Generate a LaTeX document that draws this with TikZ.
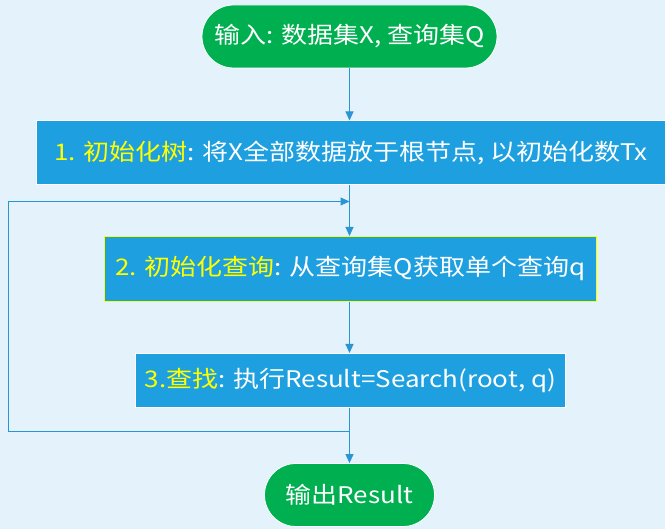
\documentclass[tikz,border=0pt]{standalone}
\usepackage{fontspec}
\setmainfont{Noto Sans CJK SC}
\usetikzlibrary{arrows.meta,shapes.misc}
\definecolor{bgc}{HTML}{E3F2FB}
\definecolor{boxc}{HTML}{1EA0E0}
\definecolor{greenc}{HTML}{00B050}
\definecolor{linec}{HTML}{2A95D5}
\definecolor{yel}{HTML}{FFFF00}
\newcommand{\sq}[1]{\scalebox{1}[0.88]{#1}}
\tikzset{
  proc/.style={fill=boxc, draw=white, line width=0.8pt, text=white, inner sep=0pt, anchor=north west},
  term/.style={rounded rectangle, fill=greenc, draw=white, line width=0.8pt, text=white, inner sep=0pt},
  conn/.style={draw=linec, line width=1pt, -{Triangle[length=9pt,width=8pt]}},
  plain/.style={draw=linec, line width=1pt},
  lbl/.style={font=\fontsize{26}{30}\selectfont}
}
\begin{document}
\begin{tikzpicture}[x=1pt,y=-1pt]
\useasboundingbox (0,0) rectangle (665,529);
\fill[bgc] (0,0) rectangle (665,529);
% nodes
\node[term, minimum width=295pt, minimum height=63pt, lbl] (start) at (349.5,36.5) {\sq{输入: 数据集X, 查询集Q}};
\node[proc, minimum width=629pt, minimum height=64pt, lbl] (b1) at (36,120.5) {\sq{\textcolor{yel}{1. 初始化树}: 将X全部数据放于根节点, 以初始化数Tx}};
\node[proc, draw=yel, minimum width=492pt, minimum height=65pt, lbl] (b2) at (104,236) {\sq{\textcolor{yel}{2. 初始化查询}: 从查询集Q获取单个查询q}};
\node[proc, minimum width=430pt, minimum height=54pt, lbl] (b3) at (135,353) {\sq{\textcolor{yel}{3.查找}: 执行Result=Search(root, q)}};
\node[term, minimum width=170pt, minimum height=63pt, lbl] (end) at (349.5,495) {\sq{输出Result}};
% helper coordinates
\coordinate (j1) at (349.5,201.5);
\coordinate (j2) at (349.5,432);
\coordinate (lb) at (8.5,432);
\coordinate (lt) at (8.5,201.5);
% connectors
\draw[conn] (start.south) -- (start.south |- b1.north);
\draw[conn] (start.south |- b1.south) -- (start.south |- b2.north);
\draw[conn] (start.south |- b2.south) -- (start.south |- b3.north);
\draw[conn] (start.south |- b3.south) -- (end.north);
\draw[plain] (j2) -- (lb) -- (lt);
\draw[conn] (lt) -- (j1);
\end{tikzpicture}
\end{document}
